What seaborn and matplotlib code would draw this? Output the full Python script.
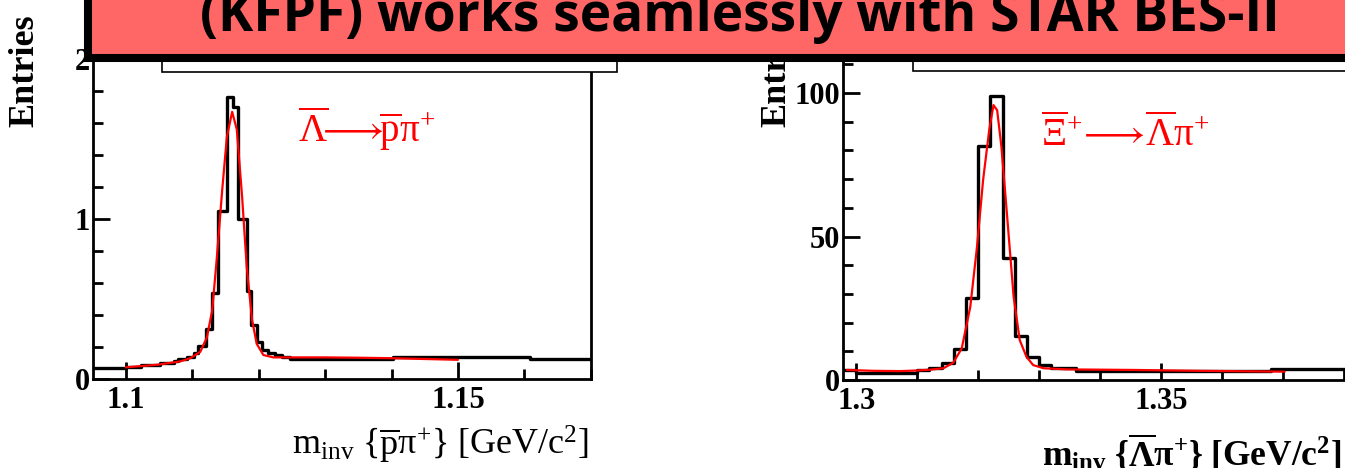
"""
Two invariant-mass peaks (anti-Lambda, anti-Xi) under a red slide banner.
"""
import numpy as np
import pandas as pd
import matplotlib
matplotlib.use('Agg')
import matplotlib.pyplot as plt
from matplotlib.patches import Rectangle
from matplotlib.ticker import MultipleLocator
import seaborn as sns

# ── data ──
# left panel: anti-Lambda -> pbar pi+
lam_edges = [1.0950, 1.1000, 1.1022, 1.1052, 1.1072, 1.1079, 1.1092, 1.1102, 1.1109,
             1.1120, 1.1129, 1.1139, 1.1153, 1.1162, 1.1169, 1.1183, 1.1188, 1.1197,
             1.1205, 1.1214, 1.1224, 1.1235, 1.1247, 1.1403, 1.1609, 1.1700]
lam_counts = [0.07, 0.075, 0.085, 0.10, 0.11, 0.125, 0.14, 0.165, 0.205, 0.31, 0.54,
              1.05, 1.76, 1.70, 1.00, 0.55, 0.34, 0.23, 0.18, 0.165, 0.15, 0.14,
              0.123, 0.14, 0.123]
lam_fit_x = [1.1000, 1.1047, 1.1082, 1.1097, 1.1112, 1.1122, 1.1130, 1.1137, 1.1145,
             1.1152, 1.1160, 1.1167, 1.1175, 1.1182, 1.1190, 1.1197, 1.1207, 1.1222,
             1.1248, 1.1300, 1.1350, 1.1400, 1.1450, 1.1500]
lam_fit_y = [0.073, 0.089, 0.11, 0.13, 0.17, 0.26, 0.43, 0.76, 1.18, 1.51, 1.67, 1.56,
             1.14, 0.70, 0.37, 0.22, 0.15, 0.135, 0.135, 0.135, 0.133, 0.13, 0.125, 0.12]

# right panel: anti-Xi+ -> anti-Lambda pi+
xi_edges = [1.2978, 1.300, 1.310, 1.312, 1.314, 1.316, 1.318, 1.320, 1.322, 1.324,
            1.326, 1.328, 1.330, 1.332, 1.336, 1.368, 1.385]
xi_counts = [3.5, 2.5, 3.5, 4.1, 6.0, 10.7, 28.5, 81.5, 99, 42.4, 15.2, 7.9, 5.2,
             4.2, 3.3, 3.9]
xi_fit_x = [1.2985, 1.3028, 1.3072, 1.3099, 1.3121, 1.3143, 1.3159, 1.3173, 1.3187,
            1.3198, 1.3208, 1.3218, 1.3225, 1.3231, 1.3238, 1.3247, 1.3258, 1.3268,
            1.3279, 1.3290, 1.3307, 1.3345, 1.3454, 1.3563, 1.3702]
xi_fit_y = [3.5, 3.2, 3.1, 3.3, 3.6, 4.1, 6.0, 11.0, 25.5, 46.4, 69.7, 87.1, 95.8,
            94.0, 81.3, 58.0, 29.0, 13.9, 8.1, 5.2, 4.1, 3.7, 3.5, 3.2, 2.9]

lam_xticks, lam_xticklabels = [1.10, 1.15], ['1.1', '1.15']
lam_yticks, lam_yticklabels = [0, 1, 2], ['0', '1', '2']
xi_xticks, xi_xticklabels = [1.30, 1.35], ['1.3', '1.35']
xi_yticks, xi_yticklabels = [0, 50, 100], ['0', '50', '100']

BANNER_TEXT = '(KFPF) works seamlessly with STAR BES-II'

# ── style ──
sns.set_theme(style='ticks')
plt.rcParams['font.family'] = ['Liberation Serif', 'DejaVu Serif']
plt.rcParams['text.color'] = 'black'
plt.rcParams['mathtext.fontset'] = 'custom'
plt.rcParams['mathtext.rm'] = 'Liberation Serif'
plt.rcParams['mathtext.it'] = 'Liberation Serif:italic'
plt.rcParams['mathtext.bf'] = 'Liberation Serif:bold'
plt.rcParams['mathtext.fallback'] = 'stix'

W, H = 1345, 468
fig = plt.figure(figsize=(W / 100, H / 100), dpi=100)
fig.patch.set_facecolor('white')


def draw_panel(ax, edges, counts, fit_x, fit_y, xlim, ylim,
               xticks, xticklabels, yticks, yticklabels, xminor, yminor):
    e = np.asarray(edges)
    df = pd.DataFrame({'m': (e[:-1] + e[1:]) / 2, 'n': counts})
    sns.histplot(data=df, x='m', weights='n', bins=list(edges), element='step',
                 fill=False, color='black', linewidth=2.4, ax=ax)
    sns.lineplot(x=fit_x, y=fit_y, color='red', linewidth=1.6, ax=ax)
    ax.set_xlim(*xlim)
    ax.set_ylim(*ylim)
    ax.set_xlabel('')
    ax.set_ylabel('')
    ax.set_xticks(xticks, xticklabels)
    ax.set_yticks(yticks, yticklabels)
    ax.xaxis.set_minor_locator(MultipleLocator(xminor))
    ax.yaxis.set_minor_locator(MultipleLocator(yminor))
    ax.tick_params(which='both', direction='in', width=2, color='black',
                   labelsize=22, labelcolor='black')
    ax.tick_params(which='major', length=12)
    ax.tick_params(which='minor', length=7)
    ax.tick_params(axis='y', pad=2)
    ax.tick_params(axis='x', pad=5)
    for lab in ax.get_xticklabels() + ax.get_yticklabels():
        lab.set_fontweight('bold')
    for sp in ax.spines.values():
        sp.set_visible(True)
        sp.set_color('black')
        sp.set_linewidth(2)
    ax.set_facecolor('white')


ax1 = fig.add_axes([92.7 / W, 89 / H, 498 / W, 336 / H])
draw_panel(ax1, lam_edges, lam_counts, lam_fit_x, lam_fit_y, (1.095, 1.17), (0, 2.1),
           lam_xticks, lam_xticklabels, lam_yticks, lam_yticklabels, 0.01, 0.2)

ax2 = fig.add_axes([842.7 / W, 88 / H, 514 / W, 330 / H])
draw_panel(ax2, xi_edges, xi_counts, xi_fit_x, xi_fit_y, (1.2978, 1.382), (0, 115),
           xi_xticks, xi_xticklabels, xi_yticks, xi_yticklabels, 0.01, 10)

# axis titles
fig.text(25 / W, 1 - 127 / H, 'Entries', rotation=90, ha='center', va='bottom',
         fontsize=26, fontweight='bold')
fig.text(777 / W, 1 - 127 / H, 'Entries', rotation=90, ha='center', va='bottom',
         fontsize=26, fontweight='bold')
fig.text(589 / W, 1 - 454 / H,
         r'$\mathrm{m}_{\mathrm{inv}}\ \{\overline{\mathrm{p}}\mathrm{\pi}^{+}\}\ [\mathrm{GeV/c}^{2}]$',
         ha='right', va='baseline', fontsize=26)
fig.text(1341 / W, 1 - 466 / H,
         r'$\mathbf{m_{inv}\ \{\overline{\Lambda}\pi^{+}\}\ [GeV/c^{2}]}$',
         ha='right', va='baseline', fontsize=25.5)

# decay labels
fig.text(298 / W, 1 - 142 / H,
         r'$\overline{\Lambda}\!\!\longrightarrow\!\!\overline{\mathrm{p}}\mathrm{\pi}^{+}$',
         color='red', ha='left', va='baseline', fontsize=28)
fig.text(1041 / W, 1 - 146 / H,
         r'$\overline{\Xi}^{+}\!\longrightarrow\!\overline{\Lambda}\mathrm{\pi}^{+}$',
         color='red', ha='left', va='baseline', fontsize=28)

# white title boxes of the two pads
fig.add_artist(Rectangle((161.6 / W, 1 - 72 / H), (617 - 161.6) / W, 72 / H,
                         transform=fig.transFigure, facecolor='white',
                         edgecolor='black', linewidth=1.2, zorder=4))
fig.add_artist(Rectangle((913 / W, 1 - 71 / H), 0.4, 71 / H,
                         transform=fig.transFigure, facecolor='white',
                         edgecolor='black', linewidth=1.2, zorder=4))

# red banner
fig.add_artist(Rectangle((88 / W, 1 - 57.5 / H), 1.0, 0.2,
                         transform=fig.transFigure, facecolor='#FF6666',
                         edgecolor='black', linewidth=5.8, zorder=5))
fig.text(740 / W, 1 - 31 / H, BANNER_TEXT, ha='center', va='baseline',
         family=['Open Sans', 'DejaVu Sans'], fontweight='bold', fontsize=38.3,
         color='black', zorder=6)

fig.savefig('out.png', dpi=100)
plt.close()
